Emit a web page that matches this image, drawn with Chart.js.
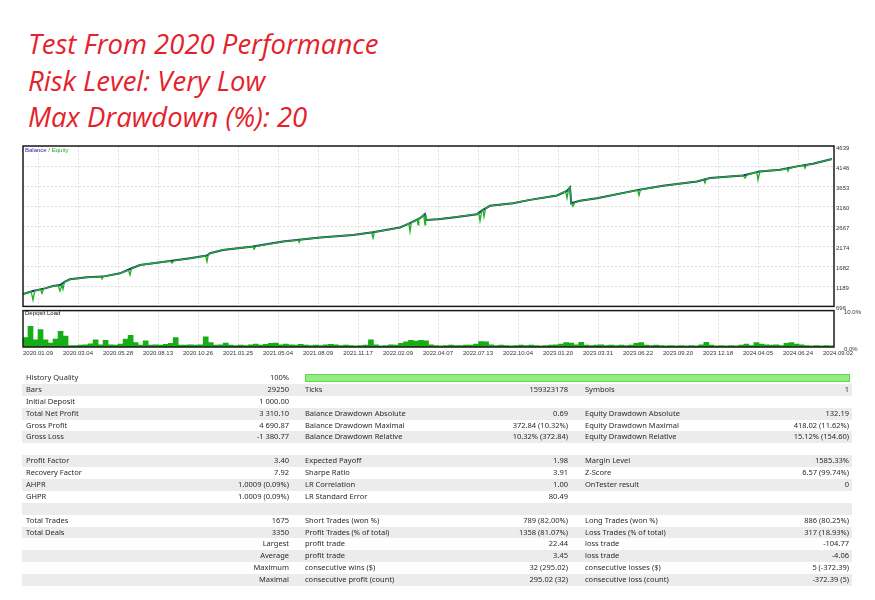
<!DOCTYPE html>
<html lang="en">
<head>
<meta charset="UTF-8">
<title>Test From 2020 Performance</title>
<script src="https://cdn.jsdelivr.net/npm/chart.js"></script>
<style>
    body { margin: 0; width: 875px; height: 600px; overflow: hidden; background: #fff; position: relative; }
    #titulo { position: absolute; left: 28px; top: 26px; color: #e5222b; font-family: "Open Sans", sans-serif; font-style: italic; font-size: 27.5px; line-height: 36.5px; }
    .caixa { position: absolute; left: 0; width: 875px; }
    #caixaBalanco { top: 140px; height: 172px; }
    #caixaCarga { top: 305px; height: 58px; }
    .rotulo { position: absolute; font-family: "Liberation Sans", sans-serif; font-size: 6px; }
    #tabela { position: absolute; left: 22px; top: 372px; width: 830px; font-family: "Noto Sans", sans-serif; font-size: 7.5px; color: #2a2a2a; }
    .fila { position: relative; height: 11.9px; line-height: 11.9px; }
    .fila:nth-child(even) { background: #ececec; }
    .fila span { position: absolute; top: 0; white-space: nowrap; }
    .qualidade { position: absolute; left: 283px; top: 2px; width: 545px; height: 8px; background: #92ee7e; border: 1px solid #6bcf5c; box-sizing: border-box; }
</style>
</head>
<body>

<div id="titulo">
    Test From 2020 Performance<br>
    Risk Level: Very Low<br>
    Max Drawdown (%): 20
</div>

<!-- grafico balance / equity -->
<div class="caixa" id="caixaBalanco"><canvas id="graficoBalanco" width="875" height="172"></canvas></div>
<div class="rotulo" style="left:25px; top:147px;"><span style="color:#2a2aa8">Balance</span> <span style="color:#777">/</span> <span style="color:#2aa52a">Equity</span></div>

<!-- grafico deposit load -->
<div class="caixa" id="caixaCarga"><canvas id="graficoCarga" width="875" height="58"></canvas></div>
<div class="rotulo" style="left:25px; top:310px; color:#111;">Deposit Load</div>

<div id="tabela"></div>

<script>
// eixo x: posicao em unidades de rotulo de data (0 = 2020.01.09)
const datas = ['2020.01.09', '2020.03.04', '2020.05.28', '2020.08.13', '2020.10.26', '2021.01.25', '2021.05.04',
    '2021.08.09', '2021.11.17', '2022.02.09', '2022.04.07', '2022.07.13', '2022.10.04', '2023.01.20',
    '2023.03.31', '2023.06.22', '2023.09.20', '2023.12.18', '2024.04.05', '2024.06.24', '2024.09.02'];
const xMin = -0.375;
const xMax = 19.9;

const yRotulos = ['696', '1189', '1682', '2174', '2667', '3160', '3653', '4146', '4639'];
const yMin = 696;
const yMax = 4639;

const balancoX = [-0.375, -0.125, 0.175, 0.375, 0.55, 0.675, 0.8, 1.225, 1.625, 2.05, 2.3, 2.55, 3.3, 3.8, 4.225, 4.3,
    4.625, 5.375, 6.125, 7.05, 7.875, 8.375, 9.05, 9.3, 9.55, 9.675, 9.7, 10.0, 10.425, 10.975, 11.125, 11.3,
    11.875, 12.3, 12.975, 13.225, 13.3, 13.33, 13.55, 13.975, 14.975, 15.625, 16.475, 16.8, 17.625, 18.05,
    18.55, 18.975, 19.375, 19.85];
const balancoY = [1000, 1073, 1139, 1196, 1221, 1304, 1361, 1411, 1428, 1509, 1615, 1714, 1812, 1879, 1945, 2002,
    2083, 2167, 2290, 2389, 2453, 2519, 2635, 2741, 2864, 2963, 2822, 2840, 2889, 2963, 3069, 3168,
    3234, 3315, 3424, 3537, 3620, 3234, 3291, 3357, 3554, 3660, 3768, 3850, 3916, 4015,
    4055, 4138, 4203, 4318];

const equityX = [-0.375, -0.17, -0.125, -0.08, 0.06, 0.1, 0.14, 0.375, 0.5, 0.55, 0.6, 0.625, 0.66, 0.8, 1.225,
    1.58, 1.6, 1.63, 2.05, 2.26, 2.3, 2.34, 2.55, 3.3, 3.35, 3.4, 3.8, 4.19, 4.225, 4.26, 4.3, 4.625, 5.375,
    5.4, 5.45, 6.125, 6.5, 6.53, 6.56, 7.05, 7.875, 8.34, 8.375, 8.41, 9.05, 9.27, 9.3, 9.33, 9.48, 9.5, 9.52,
    9.55, 9.64, 9.675, 9.69, 9.7, 10.0, 10.425, 10.975, 11.02, 11.05, 11.09, 11.125, 11.15, 11.19, 11.3,
    11.875, 12.3, 12.975, 13.19, 13.225, 13.26, 13.3, 13.33, 13.375, 13.42, 13.55, 13.975, 14.99, 15.025,
    15.06, 15.625, 16.475, 16.64, 16.675, 16.71, 16.8, 17.625, 17.675, 17.72, 17.97, 18.0, 18.05, 18.55,
    18.72, 18.75, 18.78, 18.975, 19.14, 19.175, 19.21, 19.375, 19.85];
const equityY = [1000, 1060, 851, 1080, 1115, 1016, 1130, 1196, 1215, 1073, 1225, 1120, 1290, 1361, 1411,
    1425, 1370, 1428, 1509, 1590, 1467, 1630, 1714, 1812, 1760, 1820, 1879, 1940, 1797, 1975, 2002, 2083, 2167,
    2100, 2175, 2290, 2330, 2270, 2335, 2389, 2453, 2515, 2371, 2522, 2635, 2735, 2536, 2750, 2840, 2700, 2850,
    2864, 2950, 2699, 2960, 2822, 2840, 2889, 2963, 2990, 2798, 3030, 3069, 2900, 3110, 3168,
    3234, 3315, 3424, 3530, 3357, 3560, 3620, 3234, 3152, 3250, 3291, 3357, 3550, 3424,
    3562, 3660, 3768, 3820, 3727, 3830, 3850, 3916, 3850, 3925, 4005, 3808, 4015, 4055,
    4085, 4015, 4090, 4138, 4165, 4096, 4175, 4203, 4318];

// deposit load (%), barras da esquerda para a direita
const cargaDeposito = [2.6, 5.7, 2.0, 4.8, 2.0, 1.1, 2.2, 4.3, 3.0, 0.4, 0.4, 0.5, 0.6, 0.9, 2.0, 0.6, 1.8, 0.6, 0.5, 0.8,
    2.2, 3.2, 1.2, 0.5, 1.7, 0.5, 0.6, 0.5, 0.7, 1.0, 2.6, 0.5, 0.5, 0.6, 0.5, 0.6, 2.8, 1.2, 0.5, 0.6,
    1.1, 0.5, 0.4, 0.5, 0.4, 0.6, 0.8, 0.5, 0.7, 1.0, 1.1, 0.6, 0.8, 0.6, 0.5, 0.7, 0.5, 0.4, 0.5, 0.4,
    0.6, 0.7, 0.6, 0.4, 0.5, 0.4, 0.3, 0.4, 0.5, 2.0, 0.6, 0.3, 0.4, 0.6, 0.5, 1.0, 1.4, 1.8, 1.6, 1.8,
    1.7, 0.6, 0.4, 0.3, 0.4, 0.5, 0.4, 0.4, 0.5, 0.5, 0.8, 1.5, 1.4, 0.6, 0.4, 0.5, 0.4, 0.3, 0.4, 0.5,
    0.4, 0.5, 0.4, 0.3, 0.4, 0.5, 0.6, 0.8, 1.2, 1.1, 0.6, 1.3, 0.5, 0.4, 0.5, 0.6, 0.4, 0.5, 0.4, 0.5,
    0.4, 0.5, 1.0, 1.2, 0.5, 0.4, 0.5, 0.4, 0.3, 0.4, 0.3, 0.4, 0.3, 0.4, 0.3, 0.6, 1.3, 0.5, 0.3, 0.4,
    0.3, 0.4, 0.3, 0.5, 0.8, 0.4, 1.2, 0.8, 0.6, 0.5, 0.6, 0.4, 1.0, 1.2, 0.8, 0.6, 0.4, 0.3, 0.4, 0.3,
    0.4, 0.3];
const cargaRotulos = ['0.0%', '10.0%'];

// tabela de resultados
const linhasTabela = [
    ['History Quality', '100%', '', '', '', ''],
    ['Bars', '29250', 'Ticks', '159323178', 'Symbols', '1'],
    ['Initial Deposit', '1 000.00', '', '', '', ''],
    ['Total Net Profit', '3 310.10', 'Balance Drawdown Absolute', '0.69', 'Equity Drawdown Absolute', '132.19'],
    ['Gross Profit', '4 690.87', 'Balance Drawdown Maximal', '372.84 (10.32%)', 'Equity Drawdown Maximal', '418.02 (11.62%)'],
    ['Gross Loss', '-1 380.77', 'Balance Drawdown Relative', '10.32% (372.84)', 'Equity Drawdown Relative', '15.12% (154.60)'],
    ['', '', '', '', '', ''],
    ['Profit Factor', '3.40', 'Expected Payoff', '1.98', 'Margin Level', '1585.33%'],
    ['Recovery Factor', '7.92', 'Sharpe Ratio', '3.91', 'Z-Score', '6.57 (99.74%)'],
    ['AHPR', '1.0009 (0.09%)', 'LR Correlation', '1.00', 'OnTester result', '0'],
    ['GHPR', '1.0009 (0.09%)', 'LR Standard Error', '80.49', '', ''],
    ['', '', '', '', '', ''],
    ['Total Trades', '1675', 'Short Trades (won %)', '789 (82.00%)', 'Long Trades (won %)', '886 (80.25%)'],
    ['Total Deals', '3350', 'Profit Trades (% of total)', '1358 (81.07%)', 'Loss Trades (% of total)', '317 (18.93%)'],
    ['', 'Largest', 'profit trade', '22.44', 'loss trade', '-104.77'],
    ['', 'Average', 'profit trade', '3.45', 'loss trade', '-4.06'],
    ['', 'Maximum', 'consecutive wins ($)', '32 (295.02)', 'consecutive losses ($)', '5 (-372.39)'],
    ['', 'Maximal', 'consecutive profit (count)', '295.02 (32)', 'consecutive loss (count)', '-372.39 (5)']
];

function montarTabela() {
    const tabela = document.getElementById('tabela');
    linhasTabela.forEach((l, i) => {
        let html = '<div class="fila">';
        if (i == 0) html += '<div class="qualidade"></div>';
        html += '<span style="left:4px">' + l[0] + '</span>';
        html += '<span style="left:0; width:267px; text-align:right">' + l[1] + '</span>';
        html += '<span style="left:283px">' + l[2] + '</span>';
        html += '<span style="left:0; width:546px; text-align:right">' + l[3] + '</span>';
        html += '<span style="left:563px">' + l[4] + '</span>';
        html += '<span style="left:0; width:827px; text-align:right">' + l[5] + '</span>';
        html += '</div>';
        tabela.innerHTML += html;
    });
}
montarTabela();

// moldura preta em volta da area do grafico
const moldura = {
    id: 'moldura',
    afterDraw(chart) {
        const a = chart.chartArea;
        const c = chart.ctx;
        c.save();
        c.strokeStyle = '#1a1a1a';
        c.lineWidth = 1.5;
        c.strokeRect(a.left, a.top, a.right - a.left, a.bottom - a.top);
        c.restore();
    }
};

const gradeCor = '#d6d6d6';
const fonteEixo = { family: 'Liberation Sans', size: 6 };

const ctxBalanco = document.getElementById('graficoBalanco').getContext('2d');
const graficoBalanco = new Chart(ctxBalanco, {
    type: 'line',
    data: {
        datasets: [{
            label: 'Equity',
            data: equityX.map((x, i) => ({ x: x, y: equityY[i] })),
            borderColor: '#22b022',
            borderWidth: 1.3,
            pointRadius: 0,
            tension: 0
        }, {
            label: 'Balance',
            data: balancoX.map((x, i) => ({ x: x, y: balancoY[i] })),
            borderColor: '#1d2a8a',
            borderWidth: 2,
            pointRadius: 0,
            tension: 0
        }]
    },
    options: {
        responsive: false,
        animation: false,
        layout: { padding: { top: 6, bottom: 4, left: 23, right: 0 } },
        plugins: { legend: { display: false }, tooltip: { enabled: false } },
        scales: {
            x: {
                type: 'linear',
                min: xMin,
                max: xMax,
                offset: false,
                afterBuildTicks: (s) => { s.ticks = datas.slice(0, 20).map((d, i) => ({ value: i })); },
                afterFit: (s) => { s.height = 0; },
                ticks: { display: false },
                border: { display: false, dash: [2, 2] },
                grid: { color: gradeCor, drawTicks: false, lineWidth: 0.8 }
            },
            y: {
                position: 'right',
                min: yMin,
                max: yMax,
                afterBuildTicks: (s) => { s.ticks = yRotulos.map((r, i) => ({ value: yMin + i * (yMax - yMin) / 8 })); },
                afterFit: (s) => { s.width = 41; },
                ticks: {
                    font: fonteEixo,
                    color: '#333',
                    padding: 2,
                    labelOffset: 2,
                    callback: (v, i) => yRotulos[i]
                },
                border: { display: false, dash: [2, 2] },
                grid: { color: gradeCor, drawTicks: false, lineWidth: 0.8 }
            }
        }
    },
    plugins: [moldura]
});

const ctxCarga = document.getElementById('graficoCarga').getContext('2d');
const graficoCarga = new Chart(ctxCarga, {
    type: 'bar',
    data: {
        labels: cargaDeposito.map((v, i) => i),
        datasets: [{
            label: 'Deposit Load',
            data: cargaDeposito,
            xAxisID: 'xb',
            backgroundColor: '#17ad17',
            barPercentage: 1,
            categoryPercentage: 1
        }]
    },
    options: {
        responsive: false,
        animation: false,
        layout: { padding: { top: 3, bottom: 0, left: 23, right: 0 } },
        plugins: { legend: { display: false }, tooltip: { enabled: false } },
        scales: {
            xb: { type: 'category', display: false },
            x: {
                type: 'linear',
                position: 'bottom',
                min: xMin,
                max: xMax,
                offset: false,
                afterBuildTicks: (s) => { s.ticks = datas.map((d, i) => ({ value: i })); },
                afterFit: (s) => { s.height = 16; },
                ticks: {
                    font: fonteEixo,
                    color: '#333',
                    padding: 3,
                    autoSkip: false,
                    maxRotation: 0,
                    callback: (v, i) => datas[i]
                },
                border: { display: false, dash: [2, 2] },
                grid: {
                    offset: false,
                    color: (c) => c.tick && c.tick.value > xMax ? 'rgba(0,0,0,0)' : gradeCor,
                    drawTicks: false,
                    lineWidth: 0.8
                }
            },
            y: {
                position: 'right',
                min: 0,
                max: 10,
                afterBuildTicks: (s) => { s.ticks = [{ value: 0 }, { value: 10 }]; },
                afterFit: (s) => { s.width = 41; },
                ticks: {
                    font: fonteEixo,
                    color: '#333',
                    padding: 2,
                    labelOffset: 2,
                    callback: (v, i) => cargaRotulos[i]
                },
                border: { display: false },
                grid: { display: false }
            }
        }
    },
    plugins: [moldura]
});
</script>
</body>
</html>
